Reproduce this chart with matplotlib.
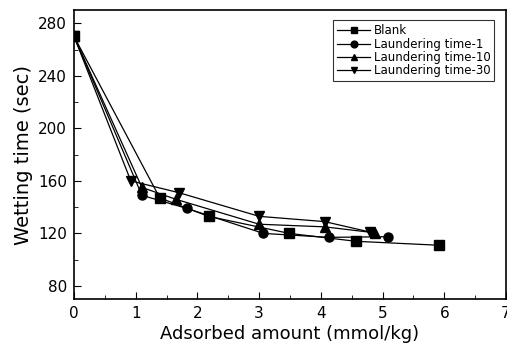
import matplotlib.pyplot as plt
from matplotlib.ticker import MultipleLocator

plt.rcParams['font.family'] = ['DejaVu Sans']

# --------- DATA ---------
blank_x = [0, 1.39, 2.18, 3.49, 4.57, 5.91]
blank_y = [270, 147, 133, 120, 114, 111]

lt1_x = [0, 1.10, 1.83, 3.07, 4.13, 5.09]
lt1_y = [270, 149, 139, 120, 117, 117.5]

lt10_x = [0, 1.10, 1.65, 3.00, 4.06, 4.87]
lt10_y = [270, 155, 146, 127, 125, 120.5]

lt30_x = [0, 0.92, 1.70, 3.00, 4.06, 4.80]
lt30_y = [270, 160, 151, 133, 129, 121]

series = [
    ("Blank", blank_x, blank_y, "s"),
    ("Laundering time-1", lt1_x, lt1_y, "o"),
    ("Laundering time-10", lt10_x, lt10_y, "^"),
    ("Laundering time-30", lt30_x, lt30_y, "v"),
]

# --------- PLOT ---------
fig = plt.figure(figsize=(5.07, 3.49), dpi=100)
ax = fig.add_axes([0.146, 0.143, 0.852, 0.828])

for name, xs, ys, mk in series:
    ax.plot(xs, ys, color="black", linewidth=0.9, marker=mk,
            markersize=6.5, markerfacecolor="black", markeredgecolor="black",
            label=name)

ax.set_xlim(0, 7)
ax.set_ylim(70, 290)
ax.xaxis.set_major_locator(MultipleLocator(1))
ax.xaxis.set_minor_locator(MultipleLocator(0.5))
ax.yaxis.set_major_locator(MultipleLocator(40))
ax.yaxis.set_minor_locator(MultipleLocator(20))
ax.set_yticks([80, 120, 160, 200, 240, 280])
ax.tick_params(which="both", direction="in", labelsize=11)
ax.tick_params(which="major", length=5, pad=5)
ax.tick_params(which="minor", length=3)
for sp in ax.spines.values():
    sp.set_linewidth(1.2)

ax.set_xlabel("Adsorbed amount (mmol/kg)", fontsize=13, labelpad=3)
ax.set_ylabel("Wetting time (sec)", fontsize=14, labelpad=4)

leg = ax.legend(loc="upper right", bbox_to_anchor=(0.987, 0.985), fontsize=8.5,
                frameon=True, fancybox=False, edgecolor="black",
                handlelength=2.8, handletextpad=0.3, borderpad=0.35,
                labelspacing=0.02, markerscale=0.75)
leg.get_frame().set_linewidth(0.8)

plt.savefig("out.png", dpi=100)
plt.close()
